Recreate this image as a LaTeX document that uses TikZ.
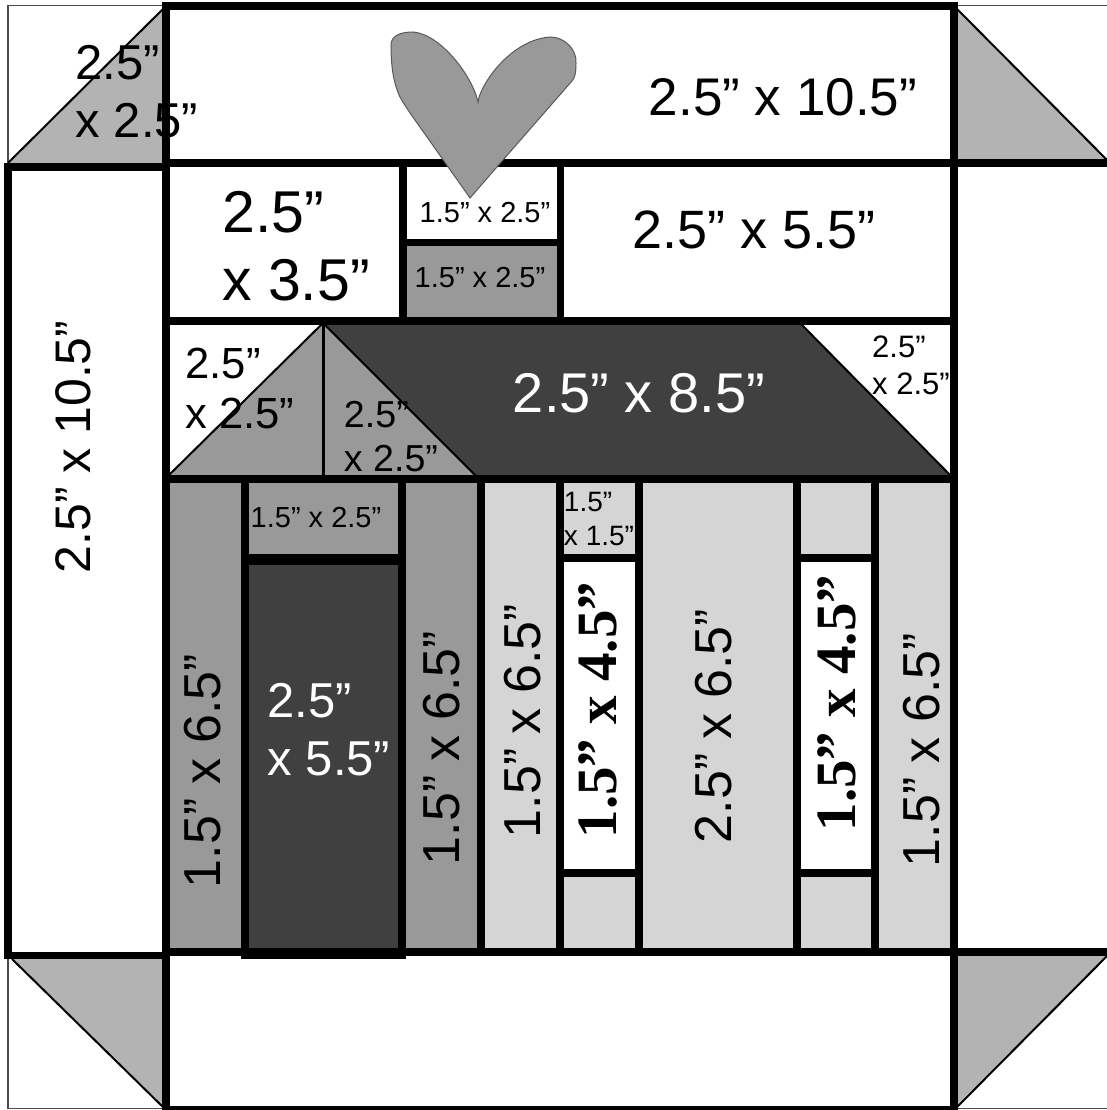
\documentclass[tikz,border=0pt]{standalone}
\usepackage{fontspec}
\setmainfont{Liberation Sans}
\newfontfamily\boldserif{Liberation Serif Bold}
\definecolor{tri}{HTML}{B3B3B3}
\definecolor{mid}{HTML}{999999}
\definecolor{dark}{HTML}{404040}
\definecolor{pale}{HTML}{D5D5D5}
\newcommand{\fs}[2]{\fontsize{#1}{#2}\selectfont}
\tikzset{
  seam/.style={line width=7.5pt,black,line cap=butt},
  diag/.style={line width=2pt,black},
  thinseam/.style={line width=1.5pt,black!70},
  lab/.style={inner sep=0pt,outer sep=0pt,align=left},
  vlab/.style={inner sep=0pt,outer sep=0pt,rotate=90},
}
\begin{document}
\begin{tikzpicture}[x=1pt,y=-1pt]
\useasboundingbox[fill=white] (0,0) rectangle (1107,1110);
% fills
\fill[tri] (8,163) -- (166,6) -- (166,163) -- cycle;
\fill[tri] (954,6) -- (1107,160) -- (954,163) -- cycle;
\fill[tri] (8,956) -- (166,1108) -- (166,956) -- cycle;
\fill[tri] (954,956) -- (1107,956) -- (954,1108) -- cycle;
\fill[mid] (403,243) rectangle (560,321);
\fill[mid] (166,479) rectangle (481,952);
\fill[pale] (481,479) rectangle (954,952);
\fill[white] (560,558) rectangle (639,873);
\fill[white] (797,558) rectangle (875,873);
\fill[dark] (245,560) rectangle (402,955);
\fill[mid] (167,477) -- (323,323) -- (477,477) -- cycle;
\fill[dark] (323,323) -- (800,323) -- (952,477) -- (477,477) -- cycle;
% thin outlines
\draw[thinseam] (166,5.5) -- (8,5.5) -- (8,163);
\draw[thinseam] (954,5.5) -- (1107,5.5);
\draw[thinseam] (8,956) -- (8,1108.5) -- (166,1108.5);
\draw[thinseam] (954,1108.5) -- (1107,1108.5);
% diagonals
\draw[diag] (8,163) -- (166,6);
\draw[diag] (957,9) -- (1107,160);
\draw[diag] (12,959) -- (164,1108);
\draw[diag] (1107,956) -- (956,1108);
\draw[diag] (167,477) -- (323,323) -- (477,477);
\draw[diag] (800,323) -- (952,477);
\draw[line width=3pt] (323,323) -- (323,477);
% seams
\draw[seam] (163,6) -- (957,6);
\draw[line width=4pt] (163,1108) -- (957,1108);
\draw[seam] (4,167) -- (166,167);
\draw[seam] (166,163) -- (1107,163);
\draw[seam] (166,321) -- (954,321);
\draw[seam] (166,479) -- (954,479);
\draw[seam] (166,952) -- (954,952);
\draw[seam] (954,952) -- (1107,952);
\draw[seam] (4,955.5) -- (166,955.5);
\draw[seam] (241,955.5) -- (406,955.5);
\draw[seam] (403,163) -- (403,321);
\draw[seam] (560.5,163) -- (560.5,321);
\draw[seam] (403,242.5) -- (560,242.5);
\draw[seam] (8,163) -- (8,959);
\draw[seam] (166,2) -- (166,1110);
\draw[seam] (954,2) -- (954,1110);
\draw[seam] (245,479) -- (245,955);
\draw[seam] (402,479) -- (402,955);
\draw[seam] (481,479) -- (481,955);
\draw[seam] (560,479) -- (560,955);
\draw[seam] (639,479) -- (639,955);
\draw[seam] (797,479) -- (797,955);
\draw[seam] (875,479) -- (875,955);
\draw[line width=11pt] (241,559.5) -- (406,559.5);
\draw[seam] (560,558) -- (639,558);
\draw[seam] (797,558) -- (875,558);
\draw[seam] (560,873) -- (639,873);
\draw[seam] (797,873) -- (875,873);
% heart
\fill[mid,draw=black!65,line width=1pt] (470,198)
  -- (427,137) .. controls (415,120) and (406,108) .. (400,97)
  .. controls (393,82) and (391,65) .. (391,45)
  .. controls (391,36) and (400,32) .. (413,32)
  .. controls (440,34) and (472,75) .. (478,102)
  .. controls (480,85) and (510,40) .. (550,37)
  .. controls (565,37) and (577,50) .. (576,63)
  .. controls (576,72) and (575,78) .. (572,81)
  -- (503,160) -- cycle;
% labels
\node[lab,font=\fs{49}{58}] (t1) at (137,92) {2.5”\\x 2.5”};
\node[lab,font=\fs{53}{60}] (t2) at (783,97) {2.5” x 10.5”};
\node[lab,font=\fs{59}{68}] (t3) at (296,246) {2.5”\\x 3.5”};
\node[lab,font=\fs{29}{34}] (t4) at (485,213) {1.5” x 2.5”};
\node[lab,font=\fs{29}{34}] (t5) at (480,278) {1.5” x 2.5”};
\node[lab,font=\fs{54}{60}] (t6) at (754,230) {2.5” x 5.5”};
\node[lab,font=\fs{56}{60},text=white] (t7) at (639,393) {2.5” x 8.5”};
\node[lab,font=\fs{43.6}{50}] (t8) at (240,388) {2.5”\\x 2.5”};
\node[lab,font=\fs{37.6}{44}] (t9) at (391,437) {2.5”\\x 2.5”};
\node[lab,font=\fs{31}{37}] (t10) at (911,365) {2.5”\\x 2.5”};
\node[lab,font=\fs{29}{34}] (t11) at (316,518) {1.5” x 2.5”};
\node[lab,font=\fs{28}{34}] (t12) at (599,519) {1.5”\\x 1.5”};
\node[lab,font=\fs{49}{58},text=white] (t13) at (329,730) {2.5”\\x 5.5”};
\node[vlab,font=\fs{50}{60}] (v1) at (73,447) {2.5” x 10.5”};
\node[vlab,font=\fs{52}{60}] (v2) at (203,771) {1.5” x 6.5”};
\node[vlab,font=\fs{52}{60}] (v3) at (442,748) {1.5” x 6.5”};
\node[vlab,font=\fs{52}{60}] (v4) at (523,721) {1.5” x 6.5”};
\node[vlab,font=\fs{52}{60}] (v5) at (714,726) {2.5” x 6.5”};
\node[vlab,font=\fs{52}{60}] (v6) at (922,750) {1.5” x 6.5”};
\node[vlab,font=\boldserif\fs{57}{60}] (s1) at (598,710) {1.5” x 4.5”};
\node[vlab,font=\boldserif\fs{57}{60}] (s2) at (837,703) {1.5” x 4.5”};
\end{tikzpicture}
\end{document}
